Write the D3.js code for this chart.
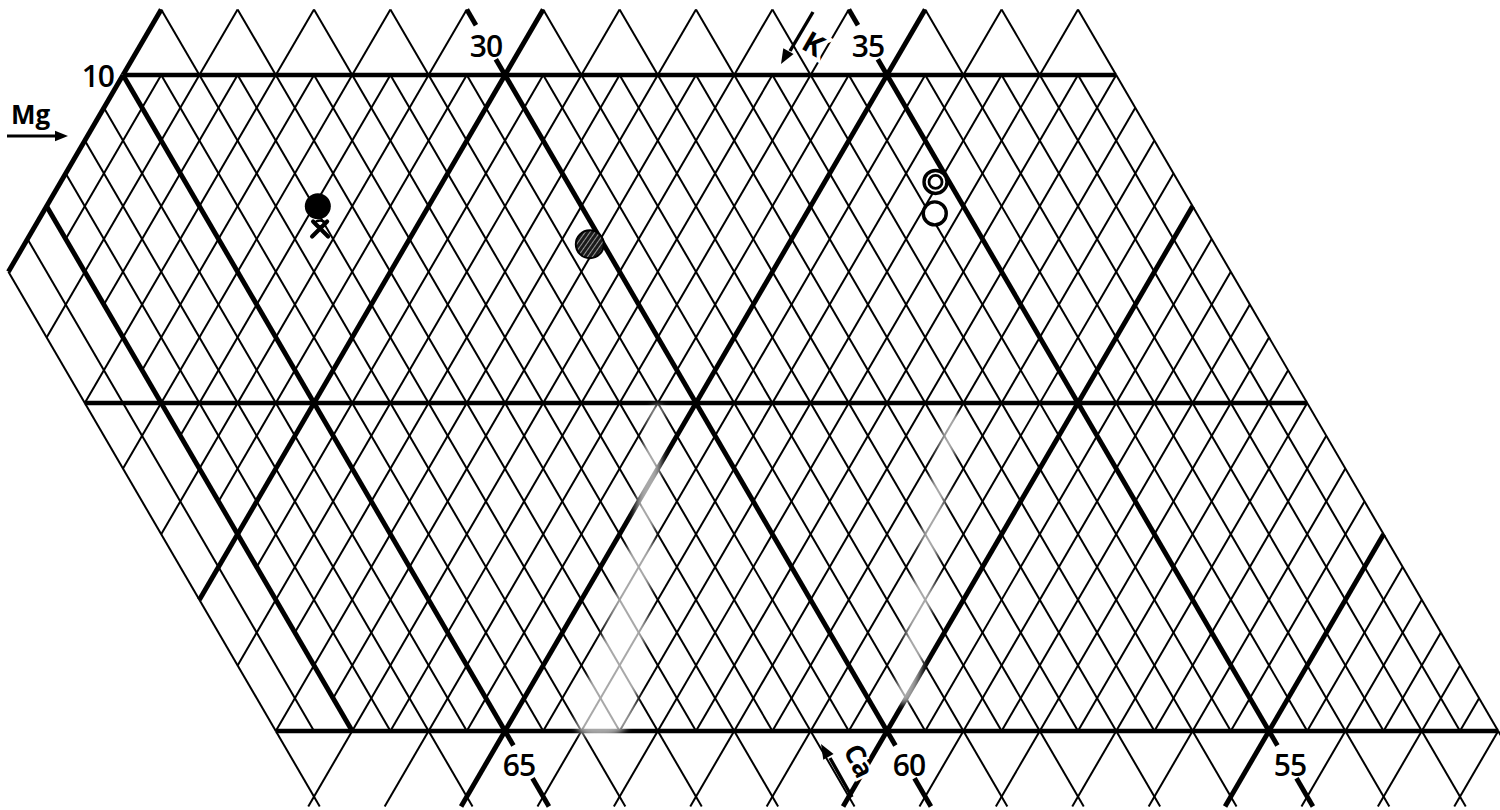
<!DOCTYPE html>
<html>
<head>
<meta charset="utf-8">
<script src="https://cdn.jsdelivr.net/npm/d3@7"></script>
<style>
  html, body { margin: 0; padding: 0; background: #fff; }
  svg { display: block; }
</style>
</head>
<body>
<svg id="chart" width="1500" height="810"></svg>
<script>
// Ternary sheet Mg – K – Ca (Ca = 100 − K − Mg), enlarged detail of the field.
// Heavy rules every 5 units, light rules every 0.5 unit inside the field.

const mgRules   = [0, 5, 10];            // heavy horizontal rules (Mg)
const kHeavy    = [25, 30, 35, 40, 45];  // heavy K rules
const caHeavy   = [55, 60, 65, 67];      // heavy Ca rules
const fieldMg   = [0, 10];               // Mg span of the fine field
const fieldCa   = [52, 68];              // Ca span of the fine field
const fieldKMin = 25;                    // K border on the upper left
const stripCa   = 67;                    // beyond this Ca only whole-unit K rules
const marginMg  = [-1.15, 11];           // coarse margins below / above

const kLabels   = [30, 35];              // printed along the top rule
const caLabels  = [65, 60, 55];          // printed along the bottom rule
const mgLabel   = 10;

// analysed samples
const sampleMg   = [8.0, 7.66, 7.42, 8.37, 7.89];
const sampleK    = [28.55, 28.75, 32.40, 36.45, 36.68];
const sampleKind = ["filled", "cross", "hatched", "double", "open"];

// worn streaks in the printed ruling, as [K, Mg, half-width px] along each streak
const wear = [
  [[34.52, 4.95, 4], [35.3, 3.0, 11], [35.85, 1.4, 21], [36.25, 0.0, 22]],
  [[38.45, 4.85, 4], [39.0, 3.2, 9], [39.6, 1.6, 11], [40.0, 0.45, 6]]
];

const svg = d3.select("#chart");

// u = K + Mg/2 is the horizontal ternary coordinate
const x = d3.scaleLinear().domain([30, 35]).range([123, 505]);
const y = d3.scaleLinear().domain([10, 0]).range([75, 731]);
const P = (k, mg) => [x(k + mg / 2), y(mg)];

const thin = 2.0, heavy = 4.9;

const defs = svg.append("defs");
const hatch = defs.append("pattern")
  .attr("id", "hatch").attr("patternUnits", "userSpaceOnUse")
  .attr("width", 4).attr("height", 4)
  .attr("patternTransform", "rotate(35)");
hatch.append("rect").attr("width", 4).attr("height", 4).attr("fill", "#1a1a1a");
hatch.append("line").attr("x1", 0).attr("y1", 0).attr("x2", 0).attr("y2", 4)
  .attr("stroke", "#fff").attr("stroke-width", 1.1);
defs.append("filter").attr("id", "soft").append("feGaussianBlur").attr("stdDeviation", 3);

const segs = [];
const kSeg = (k, a, b, w) => segs.push({ p: [P(k, a), P(k, b)], w });
const caSeg = (c, a, b, w) => segs.push({ p: [P(100 - c - a, a), P(100 - c - b, b)], w });

// --- fine field ---
for (let k2 = fieldKMin * 2; k2 <= 96; k2++) {
  const k = k2 / 2, whole = k2 % 2 === 0;
  const lo = Math.max(fieldMg[0], 100 - (whole ? fieldCa[1] : stripCa) - k);
  const hi = Math.min(fieldMg[1], 100 - fieldCa[0] - k);
  if (hi > lo) kSeg(k, lo, hi, kHeavy.includes(k) ? heavy : thin);
}
for (let c2 = fieldCa[0] * 2; c2 <= fieldCa[1] * 2; c2++) {
  const c = c2 / 2;
  const hi = Math.min(fieldMg[1], 100 - fieldKMin - c);
  if (hi > fieldMg[0]) caSeg(c, fieldMg[0], hi, caHeavy.includes(c) ? heavy : thin);
}

// --- coarse margin above Mg = 10 ---
const mgTop = marginMg[1];
for (let k = fieldKMin; k <= 100 - fieldCa[0] - mgTop; k++)
  kSeg(k, 10, mgTop, kHeavy.includes(k) ? heavy : thin);
for (let c = fieldCa[0]; c <= 100 - fieldKMin - mgTop; c++) {
  if (kLabels.includes(100 - c - 10)) {          // rule broken by its label
    caSeg(c, 10, 10.24, heavy);
    caSeg(c, 10.76, mgTop, heavy);
  } else caSeg(c, 10, mgTop, thin);
}

// --- coarse margin below Mg = 0 ---
const mgBot = marginMg[0];
for (let k = 100 - fieldCa[1] + 1; k <= 100 - fieldCa[0]; k++)
  kSeg(k, 0, mgBot, kHeavy.includes(k) ? heavy : thin);
for (let c = fieldCa[0]; c <= fieldCa[1]; c++) {
  if (c === stripCa) continue;
  if (caLabels.includes(c)) {
    caSeg(c, 0, -0.22, heavy);
    caSeg(c, -0.72, mgBot, heavy);
  } else caSeg(c, 0, mgBot, thin);
}

// --- heavy Mg rules ---
mgRules.forEach(m => {
  const kLo = Math.max(fieldKMin, 100 - fieldCa[1] - m);
  const kHi = 100 - fieldCa[0] - m;
  segs.push({ p: [P(kLo, m), P(kHi, m)], w: 4.4 });
});

const line = d3.line();
svg.append("g").attr("fill", "none").attr("stroke", "#000").attr("stroke-linecap", "butt")
  .selectAll("path").data(segs.sort((a, b) => a.w - b.w)).join("path")
  .attr("d", d => line(d.p)).attr("stroke-width", d => d.w);

// --- worn streaks (ink partly missing) ---
svg.append("g").attr("fill", "#fff").attr("opacity", 0.66).attr("filter", "url(#soft)")
  .selectAll("path").data(wear).join("path")
  .attr("d", pts => {
    const c = pts.map(([k, m, w]) => [...P(k, m), w]);
    const left = c.map(([px, py, w]) => [px - w, py]);
    const right = c.map(([px, py, w]) => [px + w, py]).reverse();
    return d3.line().curve(d3.curveCatmullRomClosed)([...left, ...right]);
  });

// --- scale labels ---
const font = "'Open Sans', 'DejaVu Sans', sans-serif";
const lab = svg.append("g").attr("font-family", font).attr("font-weight", 600)
  .attr("fill", "#000").attr("font-size", 30).attr("text-anchor", "middle")
  .attr("letter-spacing", -1);

kLabels.forEach(k => {
  const [px, py] = P(k, 10);
  lab.append("text").attr("x", px - 19).attr("y", py - 18).text(k);
});
const caDx = { 65: 14, 60: 22, 55: 21 };
caLabels.forEach(c => {
  const [px, py] = P(100 - c, 0);
  lab.append("text").attr("x", px + caDx[c]).attr("y", py + 45).text(c);
});
{
  const [px, py] = P(100 - 65 - mgLabel, mgLabel);
  lab.append("text").attr("text-anchor", "end").attr("x", px - 9).attr("y", py + 12).text(mgLabel);
}

// --- component arrows ---
const arrowHead = (g, tip, angleDeg, size) => {
  const a = angleDeg * Math.PI / 180;
  const l = [tip[0] - size * Math.cos(a - 0.38), tip[1] - size * Math.sin(a - 0.38)];
  const r = [tip[0] - size * Math.cos(a + 0.38), tip[1] - size * Math.sin(a + 0.38)];
  g.append("path").attr("d", `M${tip}L${l}L${r}Z`).attr("fill", "#000");
};
const ann = svg.append("g").attr("stroke", "#000").attr("fill", "none");

// Mg
svg.append("text").attr("x", 11).attr("y", 124).attr("font-family", font)
  .attr("font-weight", 700).attr("font-size", 26).text("Mg");
ann.append("line").attr("x1", 7).attr("y1", 136).attr("x2", 58).attr("y2", 136).attr("stroke-width", 3);
arrowHead(svg, [68, 136], 0, 14);

// K (the letter sits on the arrow shaft, ruling interrupted around it)
svg.append("text").attr("x", 0).attr("y", 0).attr("font-family", font)
  .attr("font-weight", 700).attr("font-size", 29)
  .attr("stroke", "#fff").attr("stroke-width", 7).attr("paint-order", "stroke")
  .attr("transform", "translate(800,48) rotate(30)").text("K");
ann.append("line").attr("x1", 813).attr("y1", 12).attr("x2", 790).attr("y2", 51).attr("stroke-width", 3.4);
arrowHead(svg, [781, 64], 120, 16);

// Ca
svg.append("text").attr("x", 0).attr("y", 0).attr("font-family", font)
  .attr("font-weight", 700).attr("font-size", 27)
  .attr("stroke", "#fff").attr("stroke-width", 5).attr("paint-order", "stroke")
  .attr("transform", "translate(843,750) rotate(64)").text("Ca");
ann.append("line").attr("x1", 852).attr("y1", 797).attr("x2", 830).attr("y2", 758).attr("stroke-width", 3.4);
arrowHead(svg, [821, 744], -120, 16);

// --- samples ---
const sg = svg.append("g");
sampleKind.forEach((kind, i) => {
  const [px, py] = P(sampleK[i], sampleMg[i]);
  if (kind === "filled") {
    sg.append("circle").attr("cx", px).attr("cy", py).attr("r", 13).attr("fill", "#000");
  } else if (kind === "cross") {
    sg.append("path").attr("d", `M${px - 7},${py - 7}L${px + 8},${py + 8}M${px + 7},${py - 7}L${px - 8},${py + 8}`)
      .attr("stroke", "#000").attr("stroke-width", 4.2).attr("stroke-linecap", "round");
    sg.append("ellipse").attr("cx", px).attr("cy", py - 5).attr("rx", 5).attr("ry", 3)
      .attr("fill", "none").attr("stroke", "#000").attr("stroke-width", 2.4);
  } else if (kind === "hatched") {
    sg.append("circle").attr("cx", px).attr("cy", py).attr("r", 14)
      .attr("fill", "url(#hatch)").attr("stroke", "#000").attr("stroke-width", 2);
  } else if (kind === "double") {
    sg.append("circle").attr("cx", px).attr("cy", py).attr("r", 11.5)
      .attr("fill", "#fff").attr("stroke", "#000").attr("stroke-width", 3.4);
    sg.append("circle").attr("cx", px).attr("cy", py).attr("r", 6.5)
      .attr("fill", "none").attr("stroke", "#000").attr("stroke-width", 2.8);
  } else {
    sg.append("circle").attr("cx", px).attr("cy", py).attr("r", 11.5)
      .attr("fill", "#fff").attr("stroke", "#000").attr("stroke-width", 3.4);
  }
});
</script>
</body>
</html>
